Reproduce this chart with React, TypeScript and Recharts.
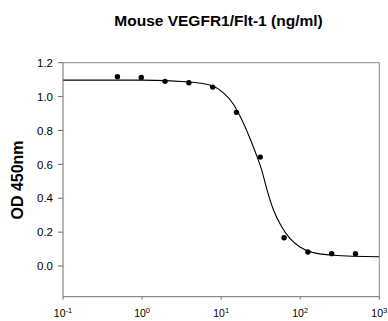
import React from "react";
import {
  ComposedChart,
  XAxis,
  YAxis,
  Scatter,
  Line,
  ReferenceLine,
} from "recharts";

// Measured concentrations (ng/ml) and OD 450nm readings
const concentrations = [0.488, 0.977, 1.953, 3.906, 7.813, 15.625, 31.25, 62.5, 125, 250, 500];
const odValues = [1.117, 1.113, 1.09, 1.082, 1.056, 0.907, 0.643, 0.167, 0.083, 0.073, 0.073];

// Fitted curve at sample concentrations
const curveX = [0.1, 1, 4.05, 7.67, 10.7, 14.3, 17.3, 23.2, 28.1, 32.6, 37.7, 45.6, 58.2, 74.1, 99.1, 146, 261, 1000];
const curveY = [1.097, 1.097, 1.086, 1.064, 1.022, 0.955, 0.885, 0.753, 0.652, 0.566, 0.455, 0.334, 0.232, 0.163, 0.112, 0.079, 0.064, 0.055];

const xTicks = [0.1, 1, 10, 100, 1000];
const xTickExponents = ["-1", "0", "1", "2", "3"];
const yTicks = [0, 0.2, 0.4, 0.6, 0.8, 1.0, 1.2];

const title = "Mouse VEGFR1/Flt-1 (ng/ml)";
const yLabel = "OD 450nm";

const points = concentrations.map((x, i) => ({ x, y: odValues[i] }));
const curve = curveX.map((x, i) => ({ x, y: curveY[i] }));

const FONT = "'Liberation Sans', Arial, sans-serif";
const AXIS = "#6e6e6e";
const FRAME = "#8a8a8a";

const XTick = (props: any) => {
  const { x, y, payload } = props;
  const idx = xTicks.indexOf(payload.value);
  const exp = idx >= 0 ? xTickExponents[idx] : "";
  return (
    <text x={x} y={y + 15.6} textAnchor="middle" fontFamily={FONT} fontSize={10.5} fill="#000">
      <tspan>10</tspan>
      <tspan dy={-4} fontSize={7.5}>{exp}</tspan>
    </text>
  );
};

const YTick = (props: any) => {
  const { x, y, payload } = props;
  return (
    <text x={x} y={y} dy="0.36em" textAnchor="end" fontFamily={FONT} fontSize={11.5} fill="#000">
      {Number(payload.value).toFixed(1)}
    </text>
  );
};

export default function App() {
  return (
    <div style={{ position: "absolute", left: 0, top: 0, width: 388, height: 321, background: "#fff" }}>
      <ComposedChart
        width={388}
        height={321}
        margin={{ top: 62.7, right: 8.7, bottom: 0, left: 0 }}
      >
        <XAxis
          dataKey="x"
          type="number"
          scale="log"
          domain={[0.1, 1000]}
          ticks={xTicks}
          allowDataOverflow
          height={24.3}
          tickSize={3}
          tickMargin={2}
          stroke={AXIS}
          tickLine={{ stroke: AXIS }}
          tick={<XTick />}
          interval={0}
        />
        <YAxis
          dataKey="y"
          type="number"
          domain={[-0.181, 1.2]}
          ticks={yTicks}
          allowDataOverflow
          width={63}
          tickSize={5}
          tickMargin={5}
          stroke={AXIS}
          tickLine={{ stroke: AXIS }}
          tick={<YTick />}
          interval={0}
        />
        <ReferenceLine y={1.2} stroke={FRAME} strokeWidth={1} />
        <ReferenceLine x={1000} stroke={FRAME} strokeWidth={1} />
        <Line
          data={curve}
          dataKey="y"
          type="monotone"
          stroke="#000"
          strokeWidth={1.1}
          dot={false}
          activeDot={false}
          isAnimationActive={false}
        />
        <Scatter
          data={points}
          dataKey="y"
          fill="#000"
          isAnimationActive={false}
          shape={(p: any) => <circle cx={p.cx} cy={p.cy} r={2.7} fill="#000" />}
        />
        <text x={218.5} y={25.7} textAnchor="middle" fontFamily={FONT} fontWeight="bold" fontSize={15.5} fill="#000">
          {title}
        </text>
        <text
          x={23.3}
          y={180}
          transform="rotate(-90 23.3 180)"
          textAnchor="middle"
          fontFamily={FONT}
          fontWeight="bold"
          fontSize={16}
          fill="#000"
        >
          {yLabel}
        </text>
      </ComposedChart>
    </div>
  );
}
